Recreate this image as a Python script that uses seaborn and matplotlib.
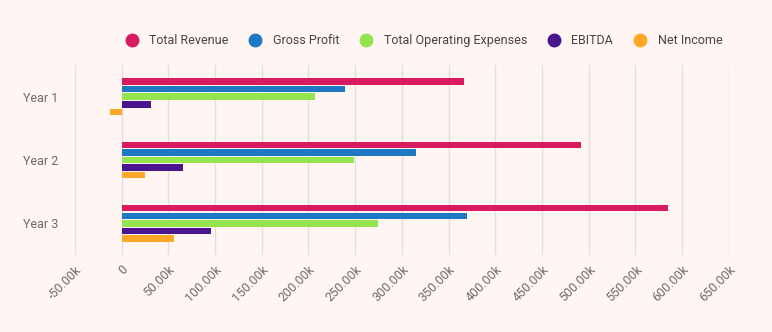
import matplotlib
matplotlib.use("Agg")
import matplotlib.pyplot as plt
import seaborn as sns
import pandas as pd
from matplotlib.ticker import FuncFormatter, MultipleLocator
from matplotlib.lines import Line2D

years = ["Year 1", "Year 2", "Year 3"]
series = ["Total Revenue", "Gross Profit", "Total Operating Expenses", "EBITDA", "Net Income"]
total_revenue = [367000, 492000, 585000]
gross_profit = [239000, 315000, 370000]
operating_expenses = [207000, 249000, 275000]
ebitda = [32000, 65500, 95500]
net_income = [-12000, 24600, 56600]
colors = ["#D81B60", "#1E78C2", "#96E350", "#4A148C", "#FFA726"]

values = [total_revenue, gross_profit, operating_expenses, ebitda, net_income]
rows = []
for s, vals in zip(series, values):
    for y, v in zip(years, vals):
        rows.append({"Year": y, "Metric": s, "Value": v})
df = pd.DataFrame(rows)

sns.set_theme(style="white")
plt.rcParams["font.family"] = ["Roboto", "DejaVu Sans"]
bg = "#FFF6F3"
fig = plt.figure(figsize=(7.72, 3.32), dpi=100, facecolor=bg)
ax = fig.add_axes([0.097, 0.232, 0.847, 0.572])
ax.set_facecolor(bg)

sns.barplot(data=df, y="Year", x="Value", hue="Metric", hue_order=series,
            order=years, palette=colors, saturation=1, orient="h", width=0.6, gap=0.15,
            ax=ax, legend=False, edgecolor="none", linewidth=0)

ax.set_xlim(-50000, 650000)
ax.xaxis.set_major_locator(MultipleLocator(50000))

def fmt(v, pos):
    if abs(v) < 1:
        return "0"
    return f"{v/1000:.2f}k"

ax.xaxis.set_major_formatter(FuncFormatter(fmt))
ax.grid(axis="x", color="#E3DEDB", linewidth=1)
ax.set_axisbelow(True)
for sp in ax.spines.values():
    sp.set_visible(False)
ax.set_xlabel("")
ax.set_ylabel("")
ax.tick_params(axis="x", colors="#6B6B6B", labelsize=9, length=0, pad=6)
ax.tick_params(axis="y", colors="#6B6B6B", labelsize=9, length=0, pad=12)
for lab in ax.get_xticklabels():
    lab.set_rotation(45)
    lab.set_ha("right")
    lab.set_rotation_mode("anchor")

handles = [Line2D([0], [0], marker="o", linestyle="", markersize=9,
                  markerfacecolor=c, markeredgecolor=c) for c in colors]
fig.legend(handles, series, loc="center", bbox_to_anchor=(0.545, 0.878), ncol=5,
           frameon=False, fontsize=9, labelcolor="#444444", handletextpad=0.4,
           columnspacing=1.15)

fig.savefig("out.png", dpi=100, facecolor=bg)
